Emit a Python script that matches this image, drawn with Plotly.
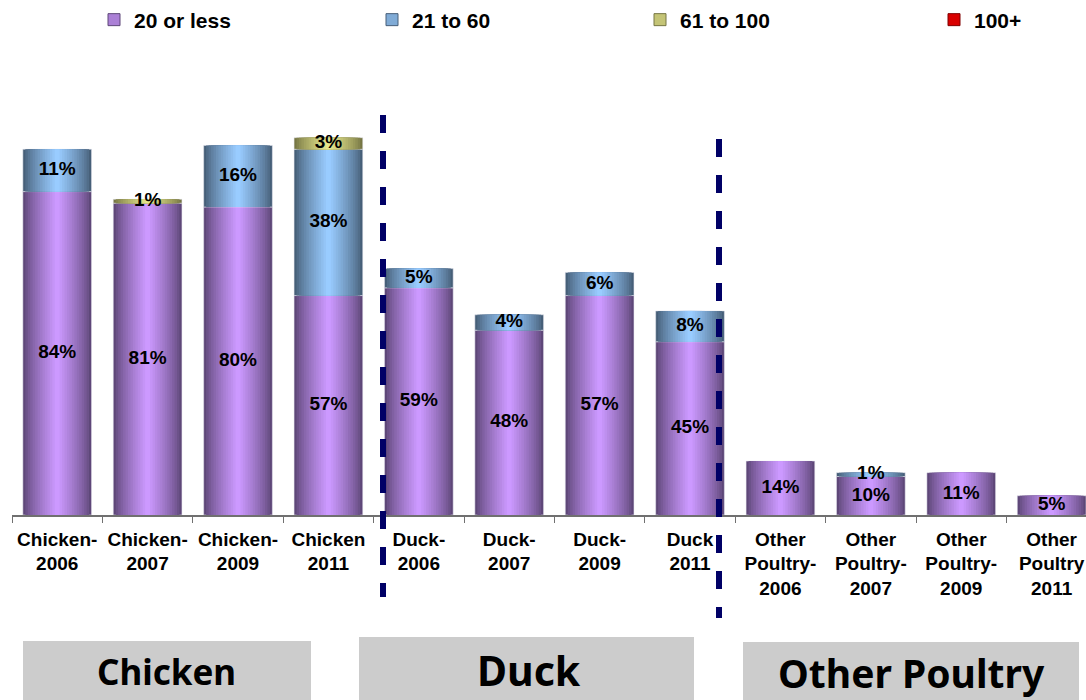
import plotly.graph_objects as go

# ---- data -------------------------------------------------------------
categories = [
    "Chicken-<br>2006", "Chicken-<br>2007", "Chicken-<br>2009", "Chicken<br>2011",
    "Duck-<br>2006", "Duck-<br>2007", "Duck-<br>2009", "Duck<br>2011",
    "Other<br>Poultry-<br>2006", "Other<br>Poultry-<br>2007",
    "Other<br>Poultry-<br>2009", "Other<br>Poultry<br>2011",
]
series_names = ["20 or less", "21 to 60", "61 to 100", "100+"]
share_20_or_less = [84, 81, 80, 57, 59, 48, 57, 45, 14, 10, 11, 5]
share_21_to_60 = [11, 0, 16, 38, 5, 4, 6, 8, 0, 1, 0, 0]
share_61_to_100 = [0, 1, 0, 3, 0, 0, 0, 0, 0, 0, 0, 0]
share_100_plus = [0, 0, 0, 0, 0, 0, 0, 0, 0, 0, 0, 0]
group_labels = ["Chicken", "Duck", "Other Poultry"]

series_values = [share_20_or_less, share_21_to_60, share_61_to_100, share_100_plus]

# ---- styling ----------------------------------------------------------
W, H = 1086, 700
M_L, M_R, M_T, M_B = 12, 0, 130, 185
PLOT_W = W - M_L - M_R
PLOT_H = H - M_T - M_B

# (edge colour, centre colour) for the cylinder-like shading of each series
shades = [
    ("#5e4778", "#cc99ff"),
    ("#465f78", "#99ccff"),
    ("#767644", "#e6e68c"),
    ("#800000", "#ff0000"),
]
BAR_W = 0.76
N_LAYERS = 14
FONT = "Liberation Sans"
# left edge (px) of each series' legend entry
legend_left = [94, 372, 640, 934]


def mix(c1, c2, t):
    a = [int(c1[i:i + 2], 16) for i in (1, 3, 5)]
    b = [int(c2[i:i + 2], 16) for i in (1, 3, 5)]
    return "rgb(%d,%d,%d)" % tuple(round(a[k] + (b[k] - a[k]) * t) for k in range(3))


def paper_x(px):
    return (px - M_L) / PLOT_W


def paper_y(py):
    return (H - M_B - py) / PLOT_H


fig = go.Figure()

base = [0] * len(categories)
for s, (name, vals) in enumerate(zip(series_names, series_values)):
    edge, centre = shades[s]
    ys = [v if v > 0 else None for v in vals]
    for k in range(N_LAYERS):
        frac = 1 - k / N_LAYERS
        t = (k / (N_LAYERS - 1)) ** 0.8
        fig.add_trace(go.Bar(
            x=categories, y=ys, base=list(base),
            width=BAR_W * frac,
            marker=dict(color=mix(edge, centre, t),
                        line=dict(width=0.6 if k == 0 else 0,
                                  color="rgba(230,230,240,0.9)")),
            name=name, legendgroup=name,
            showlegend=False, hoverinfo="skip",
        ))
    # legend entry for the series, each in its own legend box
    fig.add_trace(go.Bar(
        x=[categories[0]], y=[None], name=name, legendgroup=name,
        legend="legend" if s == 0 else f"legend{s + 1}",
        marker=dict(color=mix(edge, centre, 0.7), line=dict(width=1, color=edge)),
        showlegend=True, hoverinfo="skip",
    ))
    # value labels centred in each segment
    lx, ly, lt = [], [], []
    for i, v in enumerate(vals):
        if v > 0:
            lx.append(categories[i])
            ly.append(base[i] + v / 2)
            lt.append(f"{v}%")
    if lx:
        fig.add_trace(go.Scatter(
            x=lx, y=ly, text=lt, mode="text", showlegend=False,
            textfont=dict(family=FONT, size=19, color="black", weight="bold"),
            hoverinfo="skip", cliponaxis=False,
        ))
    base = [b + v for b, v in zip(base, vals)]

# dashed separators between the poultry groups
for x0, y0, y1 in [(383, 115, 597), (719, 139, 618)]:
    fig.add_shape(type="line", xref="paper", yref="paper",
                  x0=paper_x(x0), x1=paper_x(x0), y0=paper_y(y0), y1=paper_y(y1),
                  line=dict(color="#000066", width=6, dash="18px,18px"))

# grey group boxes below the axis
boxes = [
    (23, 641, 311, 700, 166, 35),
    (359, 637, 694, 700, 529, 41),
    (743, 642, 1079, 700, 911, 39),
]
for label, (bx0, by0, bx1, by1, tx, fs) in zip(group_labels, boxes):
    fig.add_shape(type="rect", xref="paper", yref="paper",
                  x0=paper_x(bx0), x1=paper_x(bx1), y0=paper_y(by0), y1=paper_y(by1),
                  fillcolor="#cccccc", line=dict(width=0), layer="below")
    fig.add_annotation(xref="paper", yref="paper",
                       x=paper_x(tx), y=paper_y((by0 + by1) / 2 + 1),
                       xanchor="center", yanchor="middle",
                       text=label, showarrow=False,
                       font=dict(family="Noto Sans", size=fs, color="black", weight="bold"))

legend_style = dict(
    orientation="h", xref="container", yref="container",
    y=1 - 20 / H, xanchor="left", yanchor="middle",
    bgcolor="rgba(0,0,0,0)",
    font=dict(family=FONT, size=21, color="black", weight="bold"),
    itemclick=False, itemdoubleclick=False,
)
legends = {}
for s, left in enumerate(legend_left):
    key = "legend" if s == 0 else f"legend{s + 1}"
    legends[key] = dict(legend_style, x=left / W)

fig.update_layout(
    width=W, height=H,
    margin=dict(l=M_L, r=M_R, t=M_T, b=M_B),
    barmode="overlay",
    paper_bgcolor="white", plot_bgcolor="white",
    showlegend=True,
    xaxis=dict(
        type="category", range=[-0.5, 11.38],
        showline=True, linecolor="#707070", linewidth=1.5,
        ticks="outside", tickson="boundaries", ticklen=6, tickcolor="#707070",
        ticklabelstandoff=6,
        tickfont=dict(family=FONT, size=19, color="black", weight="bold"),
        showgrid=False, fixedrange=True,
    ),
    yaxis=dict(range=[0, 100], visible=False, fixedrange=True),
    **legends,
)

fig.write_html("out.html")
